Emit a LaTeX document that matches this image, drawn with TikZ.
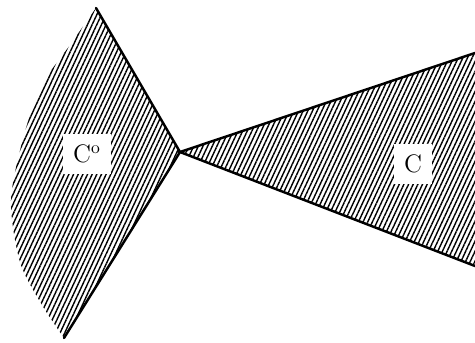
\documentclass[tikz,border=0pt]{standalone}
\usetikzlibrary{patterns.meta}

\begin{document}
\begin{tikzpicture}[
    x=0.02cm, y=-0.02cm,
    hatch/.style={
        pattern={Lines[angle=65,distance=2.4pt,line width=0.8pt]} % dense hatching of both cones
    },
    rim/.style={
        line width=1.4pt,  % heavy boundary rays
        line cap=round
    },
    tag/.style={
        fill=white,        % clears the hatching behind the letter
        inner sep=6pt,
        font=\Large
    }
]
\useasboundingbox (0,0) rectangle (475,342);

\coordinate (apex) at (180,152);
\coordinate (cUp) at (475,53);
\coordinate (cLow) at (475,266);
\coordinate (pUp) at (96,8);
\coordinate (pLow) at (64,338);

% cone C
\fill[hatch] (apex) -- (cUp) -- (cLow) -- cycle;
% polar cone, ragged on the left
\fill[hatch] (apex) -- (pUp)
    -- plot[smooth] coordinates {(96,8) (70,45) (42,85) (24,135) (11,200) (20,262) (42,305) (64,338)}
    -- cycle;

\draw[rim] (cUp) -- (apex) -- (cLow);
\draw[rim] (pUp) -- (apex) -- (pLow);

\node[tag] (cone) at (413,164) {C};
\node[tag] (polar) at (87,154) {C$^{\mathrm{o}}$};
\end{tikzpicture}
\end{document}
